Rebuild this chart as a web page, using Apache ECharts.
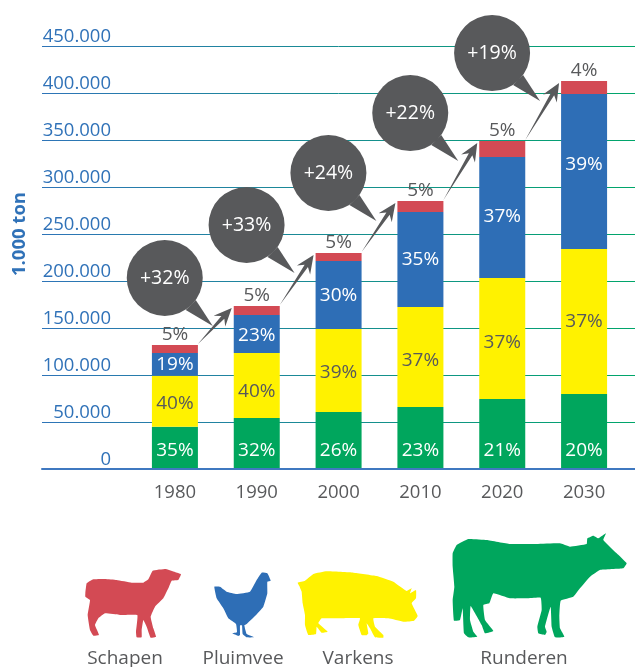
<!DOCTYPE html>
<html><head><meta charset="utf-8">
<style>html,body{margin:0;padding:0;background:#fff;overflow:hidden}#c{width:635px;height:667px}</style>
<script src="https://cdn.jsdelivr.net/npm/echarts@6/dist/echarts.min.js"></script>
</head><body><div id="c"></div>
<script>
const years = ['1980','1990','2000','2010','2020','2030'];
const runderen = [45000,54300,60600,66000,74500,79800];
const varkens  = [54300,69100,88300,106300,128700,154200];
const pluimvee = [24100,40400,72400,101100,128700,164900];
const schapen  = [8500,9600,8500,11700,17000,13800];
const runderenPct = ['35%','32%','26%','23%','21%','20%'];
const varkensPct  = ['40%','40%','39%','37%','37%','37%'];
const pluimveePct = ['19%','23%','30%','35%','37%','39%'];
const schapenPct  = ['5%','5%','5%','5%','5%','4%'];
const growth = ['+32%','+33%','+24%','+22%','+19%'];
const legendNames = ['Schapen','Pluimvee','Varkens','Runderen'];

const RED='#d34a54',BLUE='#2e6eb6',YEL='#fff200',GRN='#00a65d',GREY='#58595b',AXB='#3072b8';
const FONT='"Open Sans", "Noto Sans", sans-serif';
const totals = years.map((_,i)=>runderen[i]+varkens[i]+pluimvee[i]+schapen[i]);
const steps = growth.map((g,i)=>[i,totals[i],totals[i+1],g]);
const yellowNudge = [2,6,2,4,4,0];
const blueNudge = [0,2,1,0,-1,-7];

function sc(points,ox,oy){return points.map(p=>[ox+p[0]/3,oy+p[1]/3]);}
const sheep=sc([[76,190],[80,160],[100,148],[135,147],[170,150],[215,158],[250,158],[265,148],[278,122],[318,117],[345,126],[363,133],[355,150],[335,152],[325,175],[310,205],[285,230],[272,260],[280,295],[288,320],[272,323],[260,290],[250,270],[245,300],[245,322],[230,322],[228,305],[232,255],[180,255],[135,250],[115,265],[105,285],[117,315],[100,317],[90,300],[83,255],[90,210],[76,200]],60,530);
const hen=sc([[463,170],[480,170],[500,185],[530,192],[570,185],[590,150],[605,128],[622,130],[632,152],[622,155],[622,190],[610,230],[585,258],[560,282],[553,286],[560,312],[583,322],[560,322],[548,312],[546,286],[540,286],[540,315],[535,318],[517,310],[531,307],[528,282],[505,265],[490,235],[470,205]],60,530);
const pig=sc([[713,158],[735,152],[760,132],[800,124],[880,128],[950,138],[1000,155],[1040,183],[1055,175],[1050,190],[1068,180],[1068,205],[1055,220],[1073,258],[1062,272],[1030,275],[985,265],[940,265],[945,290],[970,315],[970,323],[945,322],[930,295],[920,280],[925,310],[920,316],[905,315],[895,285],[900,265],[840,265],[785,265],[775,280],[803,305],[785,308],[770,290],[768,312],[745,315],[735,285],[735,255],[728,220],[725,185],[722,178],[718,168]],60,530);
const cow=sc([[68,70],[80,45],[115,27],[170,30],[240,42],[320,42],[390,40],[420,50],[470,42],[472,25],[490,17],[505,25],[528,10],[520,30],[560,70],[590,100],[580,115],[510,120],[480,140],[450,175],[430,200],[392,212],[388,260],[390,295],[403,320],[375,322],[365,290],[362,230],[345,290],[350,305],[345,315],[325,310],[322,290],[335,240],[332,203],[290,205],[240,205],[190,190],[178,220],[160,225],[165,270],[190,303],[165,310],[155,285],[122,228],[120,270],[130,305],[142,320],[115,322],[102,310],[98,235],[90,270],[72,272],[68,210],[73,170],[68,110]],430,530);

function barSeries(name,vals,pcts,color,labelColor,labelOpt,nudge){
  return {type:'bar',name,stack:'t',xAxisIndex:1,yAxisIndex:1,barWidth:46,z:3,
    data:vals.map((v,i)=>nudge?{value:v,label:{offset:[0,nudge[i]]}}:v),
    itemStyle:{color},
    label:Object.assign({show:true,position:'inside',color:labelColor,fontFamily:FONT,fontSize:19,
      formatter:p=>pcts[p.dataIndex]},labelOpt||{})};
}
function renderStep(params,api){
  const a=api.coord([api.value(0),api.value(1)]);
  const b=api.coord([api.value(0)+1,api.value(2)]);
  const S=[a[0]+23,a[1]-1], T=[b[0]-25,b[1]+2];
  const dx=T[0]-S[0],dy=T[1]-S[1],L=Math.hypot(dx,dy),u=[dx/L,dy/L],n=[-u[1],u[0]];
  const P=(d,w)=>[T[0]-u[0]*d+n[0]*w,T[1]-u[1]*d+n[1]*w];
  const C=[b[0]-92,b[1]-28];
  return {type:'group',children:[
    {type:'polygon',shape:{points:[S,P(13,2),P(18,8),T,P(18,-8),P(13,-2)]},style:{fill:GREY}},
    {type:'polygon',shape:{points:[[C[0]+31,C[1]+22],[C[0]+48,C[1]+48],[C[0]+21,C[1]+32]]},style:{fill:GREY}},
    {type:'circle',shape:{cx:C[0],cy:C[1],r:38},style:{fill:GREY}},
    {type:'text',style:{x:C[0],y:C[1],text:growth[params.dataIndex],fill:'#fff',font:'19.5px '+FONT,align:'center',verticalAlign:'middle'}}
  ]};
}
const animal=(points,fill)=>({type:'polygon',shape:{points,smooth:0.1},style:{fill},silent:true});
const caption=(text,x)=>({type:'text',x,y:649,style:{text,fill:GREY,font:'19px '+FONT,align:'center',verticalAlign:'top'},silent:true});

const chart=echarts.init(document.getElementById('c'),null,{renderer:'canvas'});
chart.setOption({
  animation:false,backgroundColor:'#fff',
  grid:[
    {left:42,width:593,top:46,height:423,containLabel:false},
    {left:134,width:491,top:46,height:423,containLabel:false}
  ],
  xAxis:[
    {gridIndex:0,type:'category',data:[''],axisTick:{show:false},axisLabel:{show:false},
     axisLine:{lineStyle:{color:'#3f78c0',width:2}},z:5},
    {gridIndex:1,type:'category',data:years,axisLine:{show:false},axisTick:{show:false},
     axisLabel:{color:GREY,fontFamily:FONT,fontSize:18.5,margin:14}}
  ],
  yAxis:[
    {gridIndex:0,type:'value',min:0,max:450000,interval:50000,axisLine:{show:false},axisTick:{show:false},
     splitLine:{show:true,lineStyle:{width:1,color:new echarts.graphic.LinearGradient(42,0,635,0,[{offset:0,color:'#2e74b8'},{offset:1,color:'#00a66a'}],true)}},
     axisLabel:{inside:true,margin:69,align:'right',verticalAlign:'bottom',color:AXB,fontFamily:FONT,fontSize:18.5,
       formatter:v=>v===0?'0':String(v).replace(/(\d)(?=(\d{3})$)/,'$1.')}},
    {gridIndex:1,type:'value',min:0,max:450000,interval:50000,show:false,splitLine:{show:false}}
  ],
  series:[
    {type:'line',xAxisIndex:0,yAxisIndex:0,data:[],silent:true},
    barSeries('Runderen',runderen,runderenPct,GRN,'#fff',{position:'insideBottom',distance:9}),
    barSeries('Varkens',varkens,varkensPct,YEL,GREY,null,yellowNudge),
    barSeries('Pluimvee',pluimvee,pluimveePct,BLUE,'#fff',null,blueNudge),
    barSeries('Schapen',schapen,schapenPct,RED,GREY,{position:'top',distance:1}),
    {type:'custom',xAxisIndex:1,yAxisIndex:1,data:steps,renderItem:renderStep,clip:false,z:4,silent:true,
     encode:{x:0,y:[1,2]}}
  ],
  graphic:{elements:[
    {type:'text',x:20,y:234,rotation:Math.PI/2,style:{text:'1.000 ton',fill:AXB,font:'bold 18.5px '+FONT,align:'center',verticalAlign:'middle'},silent:true},
    animal(sheep,RED),animal(hen,BLUE),animal(pig,YEL),animal(cow,GRN),
    caption(legendNames[0],125),caption(legendNames[1],243),caption(legendNames[2],358),caption(legendNames[3],524)
  ]}
});
</script></body></html>
